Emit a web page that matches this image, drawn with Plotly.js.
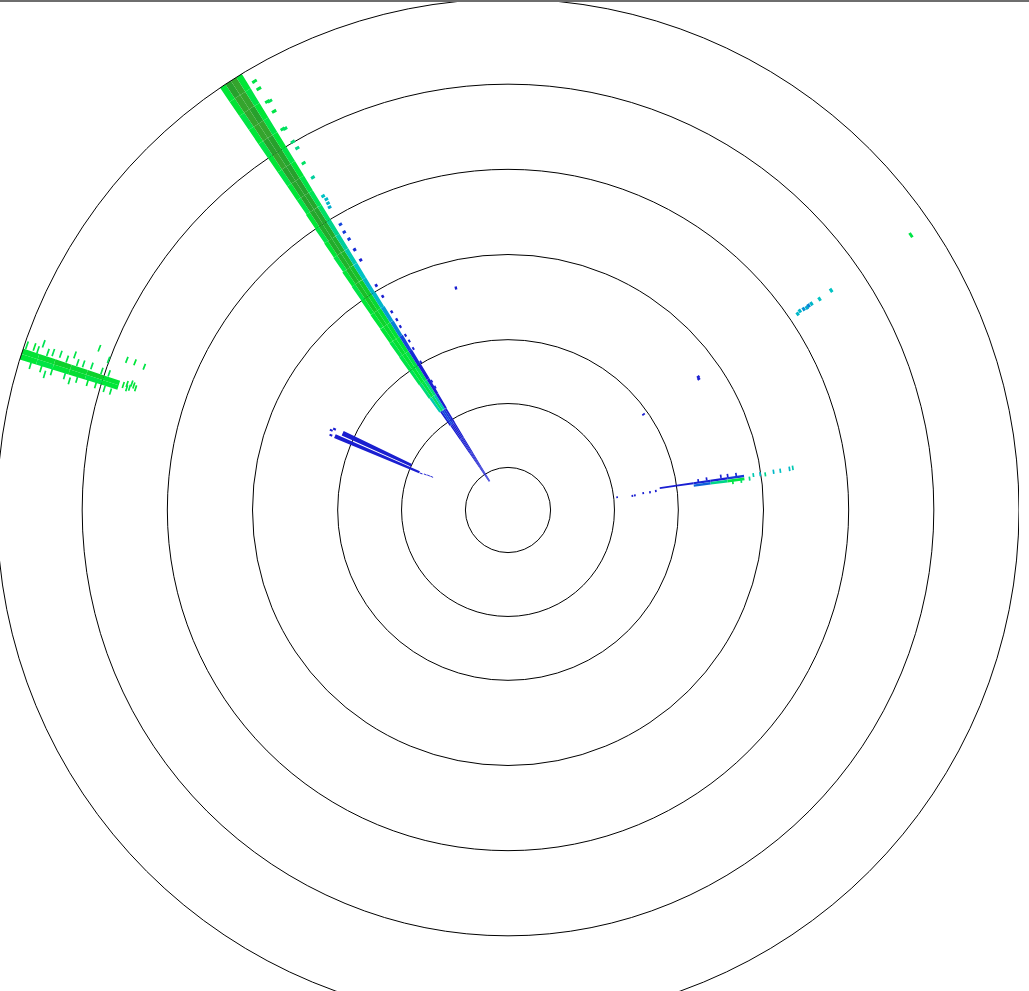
<!DOCTYPE html>
<html><head><meta charset="utf-8">
<script src="https://cdn.plot.ly/plotly-3.0.1.min.js"></script>
<style>
html,body{margin:0;padding:0;overflow:hidden;background:#fff;width:1029px;height:991px;}
#topline{position:absolute;left:0;top:0;width:1029px;height:2px;background:#6e6e6e;z-index:5;}
#chart{position:absolute;left:-3px;top:-1px;width:1022px;height:1022px;}
</style></head><body>
<div id="chart"></div><div id="topline"></div>
<script>
// ---- range rings (km) ----
const RANGE_RINGS_KM = [5, 12.5, 20, 30, 40, 50];
const MAX_RANGE_KM = 60;

// ---- main echo (NW): 2-km gates, azimuth edges per gate, 4 sub-columns ----
const mainGateStart = [4,6,8,10,12,14,16,18,20,22,24,26,28,30,32,34,36,38,40,42,44,46,48,50,52,54,56,58];
const mainLeftAz  = [325.8,325.8,325.7,325.6,325.3,324.8,324.6,324.5,324.5,324.6,324.7,324.8,324.9,325.0,325.1,325.3,325.4,325.5,325.6,325.7,325.7,325.7,325.7,325.7,325.7,325.7,325.7,325.7];
const mainRightAz = [328.6,328.6,328.7,328.8,328.9,329.1,329.2,329.2,329.1,329.0,328.9,328.8,328.7,328.6,328.6,328.6,328.6,328.6,328.6,328.6,328.6,328.6,328.6,328.6,328.6,328.6,328.6,328.6];
const mainValL1 = [6,6,6,6,8,24,27,29,30,30,31,31,31,30,31,30,31,30,31,30,31,30,31,30,31,30,32,31];
const mainValL2 = [7,7,7,8,14,28,30,31,32,33,34,36,38,40,41,42,43,43,44,45,44,45,46,45,46,46,46,45];
const mainValR1 = [7,7,7,8,12,24,27,29,30,31,32,33,34,37,39,41,42,43,44,44,45,45,44,45,46,45,46,46];
const mainValR2 = [6,6,6,6,6,7,8,8,10,14,18,20,22,22,23,24,25,26,28,29,30,31,30,31,30,31,30,31];

// ---- far-west band: 2 azimuth columns ----
const bandGateStart = [48,50,52,54,56,58];
const bandAz = [287.45, 288.1];
const bandValA = [31,30,33,31,30,31];
const bandValB = [32,36,34,36,33,32];

// ---- east echo ----
const eastTopStart = [18,20,22,24,26];
const eastTopVal = [8,8,9,8,12];
const eastBotStart = [22,24,26];
const eastBotVal = [16,26,30];

// ---- west double streak ----
const streakAz = [294.9, 293.1];
const streakStart = [12.5, 11.3];
const streakEnd = [21.4, 22.1];
const streakVal = [6, 7];

// ---- isolated small gates: azimuth (deg), range (km), value ----
const dotAz = [
  329.4,329.4,329.5,329.8,329.6,329.4,329.7,329.7,329.8,329.5,329.6,329.5,329.7,329.6,329.5,
  329.6,329.5,329.6,329.5,329.5,329.6,329.6,329.6,329.7,329.6,329.6,329.7,329.6,329.5,329.4,329.4,
  346.8,55.0,55.5,54.8,
  55.9,55.7,55.8,55.9,55.8,55.8,55.9,55.8,55.7,
  295.0,292.9,294.3,293.2,293.5,292.8,293.6
];
const dotRange = [
  58.3,57.3,55.5,55.4,54.1,51.8,51.7,49.9,49.0,47.1,45.1,42.6,42.1,41.6,41.1,
  38.7,37.7,36.7,35.3,33.9,30.4,28.9,26.8,25.7,24.8,23.6,22.8,21.8,20.0,17.4,16.6,
  26.6,27.1,27.0,19.3,
  40.9,41.3,41.8,42.2,42.5,42.9,44.0,45.7,57.1,
  22.3,22.4,22.6,10.4,10.0,10.9,9.6
];
const dotVal = [
  30,30,30,29,30,29,28,27,26,28,25,23,22,22,21,
  14,12,12,10,8,6,6,6,6,6,6,6,6,6,6,6,
  6,7,7,6,
  22,22,19,21,18,22,23,23,30,
  6,6,7,6,7,6,8
];

// ---- thin tick gates (west band surroundings, east echo) ----
const tickAz = [
  288.9,289.0,288.8,288.9,289.1,289.2,288.9,288.9,289.0,289.1,288.9,288.9,289.7,289.7,
  291.6,291.5,291.6,291.5,290.6,
  286.85,286.85,286.85,286.85,286.85,286.85,286.85,286.7,286.6,286.3,286.4,
  288.0,288.3,287.9,288.4,288.1,287.7,288.6,
  83.3,83.5,83.4,82.9,82.9,82.7,
  81.2,81.1,81.0,81.1,81.2,82.9,83.0,
  81.9,81.9,82.1,81.8,81.8,81.7,81.6,82.6
];
const tickRange = [
  59.6,58.7,58.2,57.0,56.4,55.5,54.6,53.3,52.6,51.6,50.3,49.4,57.8,53.9,
  51.5,48.0,47.0,45.8,50.0,
  58.5,57.2,55.9,54.3,52.8,51.5,50.5,49.4,48.6,56.6,53.6,
  47.4,47.0,46.6,46.2,45.9,46.9,46.5,
  12.8,14.6,14.9,15.9,16.7,17.4,
  22.5,23.5,25.2,26.0,27.0,27.5,26.5,
  29.0,29.8,30.4,31.4,32.2,33.3,33.7,28.5
];
const tickVal = [
  30,31,30,30,29,29,30,30,29,29,30,30,29,30,
  30,30,31,30,29,
  30,31,30,29,30,31,31,30,30,29,30,
  32,31,30,32,31,30,30,
  6,6,7,8,8,7,
  8,8,9,8,10,28,30,
  24,22,26,22,23,22,24,26
];

const COLORSCALE = [
  [0.00,'rgb(30,30,200)'],
  [0.16,'rgb(25,30,210)'],
  [0.28,'rgb(20,70,220)'],
  [0.40,'rgb(0,160,210)'],
  [0.46,'rgb(0,195,195)'],
  [0.56,'rgb(0,225,100)'],
  [0.62,'rgb(0,230,55)'],
  [0.76,'rgb(20,200,40)'],
  [0.90,'rgb(40,160,45)'],
  [1.00,'rgb(100,180,45)']
];

function marker(vals) {
  return {color: vals, colorscale: COLORSCALE, cmin: 0, cmax: 50, line: {width: 0}};
}
function barTrace(theta, base, len, width, vals) {
  return {type: 'barpolar', theta: theta, base: base,
    r: base.map((b, i) => Math.min(Array.isArray(len) ? len[i] : len, MAX_RANGE_KM - b)),
    width: width, marker: marker(vals), hoverinfo: 'skip', showlegend: false};
}

const traces = [];
// main echo: 4 equal sub-columns between the left and right azimuth edges of each gate
const mainVals = [mainValL1, mainValL2, mainValR1, mainValR2];
mainVals.forEach((vals, j) => {
  const th = mainGateStart.map((_, i) => mainLeftAz[i] + (j + 0.5) * (mainRightAz[i] - mainLeftAz[i]) / 4);
  const w = mainGateStart.map((_, i) => (mainRightAz[i] - mainLeftAz[i]) / 4);
  traces.push(barTrace(th, mainGateStart, 2, w, vals));
});
const bandVals = [bandValA, bandValB];
bandAz.forEach((az, i) => traces.push(barTrace(bandGateStart.map(() => az), bandGateStart, 2, 0.65, bandVals[i])));
traces.push(barTrace(eastTopStart.map(() => 81.8), eastTopStart, 2, 0.6, eastTopVal));
traces.push(barTrace(eastBotStart.map(() => 82.5), eastBotStart, 2, 0.7, eastBotVal));
traces.push(barTrace(streakAz, streakStart, streakStart.map((s, i) => streakEnd[i] - s), [1.5, 1.3], streakVal));
traces.push(barTrace(dotAz, dotRange, 0.35, 0.6, dotVal));
traces.push(barTrace(tickAz, tickRange, 0.2, 0.9, tickVal));

const layout = {
  width: 1022, height: 1022,
  margin: {l: 0, r: 0, t: 0, b: 0, pad: 0},
  paper_bgcolor: '#fff', showlegend: false,
  polar: {
    bgcolor: '#fff', barmode: 'overlay',
    domain: {x: [0, 1], y: [0, 1]},
    radialaxis: {range: [0, MAX_RANGE_KM], tickvals: RANGE_RINGS_KM, showticklabels: false,
      ticks: '', showline: false, gridcolor: '#000', gridwidth: 1},
    angularaxis: {rotation: 90, direction: 'clockwise', showgrid: false, showticklabels: false,
      ticks: '', showline: true, linecolor: '#000', linewidth: 1}
  }
};
Plotly.newPlot('chart', traces, layout, {displayModeBar: false, staticPlot: true});
</script></body></html>
